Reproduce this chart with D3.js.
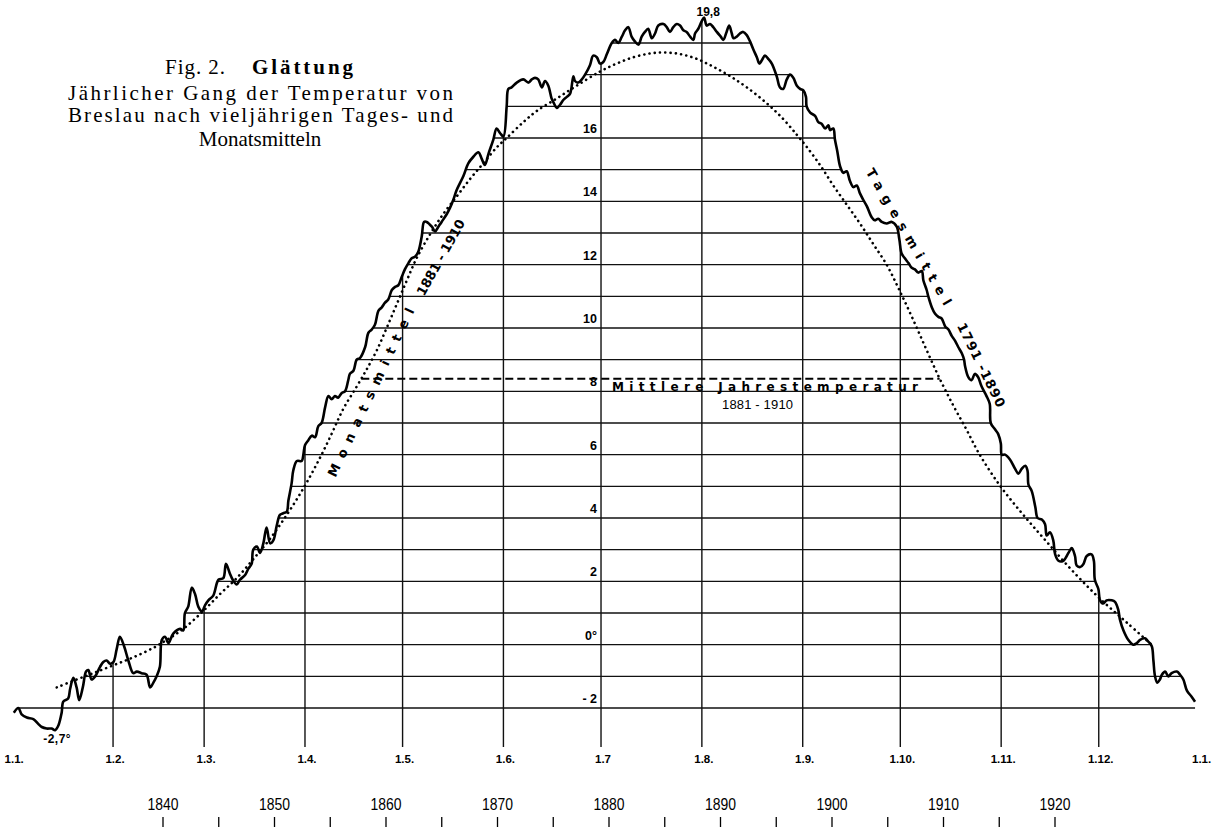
<!DOCTYPE html>
<meta charset="utf-8">
<style>
body { margin: 0; background: #fff; }
svg { display: block; background: #fff; }
.grid line { stroke: #111; stroke-width: 1.3px; }
.month line { stroke: #111; stroke-width: 1.4px; }
.daily { fill: none; stroke: #000; stroke-width: 2.6px; stroke-linejoin: round; }
.monthly { fill: none; stroke: #000; stroke-width: 2.6px; stroke-linecap: round; stroke-dasharray: 0.1 5.2; }
.mean { stroke: #000; stroke-width: 2px; stroke-dasharray: 8 4; }
.num { font-family: "Liberation Sans", Arial, sans-serif; font-weight: bold; font-size: 11.5px; fill: #000; }
.yr { font-family: "Liberation Sans", Arial, sans-serif; font-size: 16px; fill: #000; }
.yrtick line { stroke: #000; stroke-width: 1.3px; }
.lettering { font-family: "DejaVu Sans", sans-serif; font-weight: bold; font-size: 13px; fill: #000; }
.title { font-family: "Liberation Serif", "Times New Roman", serif; font-size: 21px; fill: #000; }
</style>
<body>
<svg width="1220" height="827"></svg>
<script src="https://d3js.org/d3.v7.min.js"></script>
<script>

// month boundaries (day of year) and their labels
var monthStarts = [0, 31, 59, 90, 120, 151, 181, 212, 243, 273, 304, 334, 365];
var monthLabels = ["1.1.", "1.2.", "1.3.", "1.4.", "1.5.", "1.6.", "1.7", "1.8.", "1.9.", "1.10.", "1.11.", "1.12.", "1.1."];

// temperature levels drawn as horizontal lines, and the labelled ones
var tempLevels = [-2, -1, 0, 1, 2, 3, 4, 5, 6, 7, 8, 9, 10, 11, 12, 13, 14, 15, 16, 17, 18, 19];
var tempLabels = [-2, 0, 2, 4, 6, 8, 10, 12, 14, 16];
var meanTemp = 8.4;      // Mittlere Jahrestemperatur 1881-1910
var peakTemp = 19.8;
var minTemp = -2.7;

// year scale under the chart
var yearTicks = [1840, 1845, 1850, 1855, 1860, 1865, 1870, 1875, 1880, 1885, 1890, 1895, 1900, 1905, 1910, 1915, 1920];
var yearLabels = [1840, 1850, 1860, 1870, 1880, 1890, 1900, 1910, 1920];

// Tagesmittel 1791-1890: [day of year, °C]
var dailyMean = [
  [0.5,-2.15],[1.9,-2.0],[2.9,-2.2],[4.5,-2.3],[6.5,-2.35],[8.0,-2.5],[9.1,-2.6],[10.6,-2.65],[12.1,-2.65],[13.2,-2.7],
  [14.2,-2.55],[15.2,-2.15],[15.7,-1.8],[17.2,-1.7],[17.8,-1.4],[18.8,-1.05],[19.8,-1.35],[20.6,-1.75],[21.7,-1.35],[22.7,-0.85],
  [23.4,-0.8],[24.4,-1.1],[25.5,-1.0],[27.0,-0.7],[28.0,-0.55],[29.0,-0.5],[30.1,-0.6],[31.1,-0.55],[32.1,-0.15],[33.1,0.25],
  [34.4,-0.05],[35.7,-0.5],[37.2,-0.9],[38.3,-0.85],[39.8,-0.9],[41.3,-0.95],[42.4,-1.35],[43.4,-1.2],[44.4,-1.0],[45.4,-0.7],
  [46.0,0.15],[47.0,0.25],[48.0,0.05],[49.5,0.35],[51.6,0.5],[52.6,0.45],[53.1,1.0],[54.1,1.2],[55.2,1.8],[56.2,1.6],
  [57.2,1.2],[58.3,1.05],[59.3,1.25],[60.3,1.4],[61.8,1.55],[63.4,2.05],[64.9,2.1],[65.7,2.55],[66.9,2.25],[67.8,2.05],
  [69.0,1.9],[70.0,2.05],[71.6,2.2],[72.6,2.4],[73.6,2.55],[74.1,3.0],[75.2,3.1],[76.2,2.9],[77.2,3.2],[78.2,3.7],
  [79.3,3.2],[80.3,3.3],[81.3,3.75],[82.3,4.1],[83.3,4.15],[84.4,4.2],[84.9,4.55],[85.9,5.1],[86.4,5.5],[87.5,5.8],
  [89.0,5.8],[89.5,6.0],[90.0,6.3],[91.0,6.45],[92.1,6.6],[93.1,6.55],[94.1,6.9],[95.1,7.0],[96.2,7.5],[97.2,7.85],
  [98.2,7.75],[99.2,7.85],[100.2,7.8],[101.3,7.95],[102.3,8.0],[103.3,8.35],[103.8,8.55],[104.9,8.65],[105.9,9.0],[106.9,9.05],
  [108.5,9.4],[109.5,9.85],[110.5,9.95],[111.5,10.1],[112.6,10.55],[113.6,10.65],[114.6,10.8],[115.6,10.9],[116.7,11.2],[117.7,11.3],
  [118.7,11.35],[119.7,11.6],[120.7,11.85],[121.8,12.05],[122.8,12.2],[123.8,12.25],[124.8,12.4],[125.9,12.9],[126.6,13.35],[127.4,13.35],
  [129.0,13.2],[130.0,13.05],[131.0,13.2],[132.0,13.35],[133.6,13.6],[134.6,13.8],[135.6,14.05],[136.6,14.35],[138.7,14.8],[140.2,15.2],
  [141.7,15.4],[143.3,15.55],[144.3,15.35],[145.3,15.15],[146.4,15.5],[147.9,15.95],[148.9,16.3],[150.0,16.15],[151.0,16.05],[152.0,17.0],
  [152.5,17.55],[153.5,17.6],[155.1,17.75],[157.1,17.85],[158.7,17.75],[159.7,17.85],[160.7,17.9],[161.7,17.85],[162.8,17.6],[163.8,17.8],
  [164.8,17.65],[165.8,17.25],[166.5,17.1],[167.4,16.95],[168.4,17.05],[169.4,17.2],[170.5,17.3],[171.5,17.4],[172.5,17.95],[173.0,17.8],
  [174.0,17.75],[175.1,17.85],[176.1,18.0],[177.6,18.3],[178.6,18.6],[179.7,18.55],[180.7,18.35],[181.7,18.4],[182.8,18.65],[184.3,19.0],
  [185.3,19.1],[186.3,19.0],[187.4,19.2],[188.4,19.4],[189.4,19.5],[190.4,19.2],[191.4,19.05],[192.5,18.95],[193.5,19.2],[194.5,19.35],
  [195.5,19.45],[196.6,19.15],[197.6,19.3],[198.6,19.55],[200.2,19.6],[201.2,19.5],[202.2,19.35],[203.2,19.5],[204.3,19.6],[205.3,19.55],
  [206.3,19.4],[207.3,19.35],[208.4,19.2],[209.4,19.1],[209.9,19.3],[210.9,19.45],[212.0,19.7],[212.7,19.8],[213.5,19.55],[214.5,19.6],
  [215.5,19.5],[216.6,19.35],[217.8,19.2],[218.6,19.1],[219.6,19.35],[220.4,19.55],[221.2,19.3],[221.7,19.15],[222.7,19.2],[223.7,19.3],
  [224.7,19.35],[225.8,19.25],[226.8,19.05],[227.8,18.8],[228.9,18.55],[229.7,18.35],[230.4,18.45],[231.4,18.6],[232.4,18.5],[233.5,18.35],
  [235.0,17.95],[236.0,17.6],[237.0,17.55],[238.1,17.85],[239.1,18.0],[240.1,17.9],[241.2,17.65],[242.2,17.55],[243.2,17.5],[244.0,17.3],
  [244.2,17.0],[245.3,16.8],[246.8,16.7],[247.8,16.5],[248.8,16.45],[249.9,16.3],[250.9,16.4],[251.4,16.25],[252.4,16.3],[252.9,15.95],
  [253.6,15.6],[254.5,15.1],[255.5,14.9],[256.5,14.95],[257.5,14.65],[258.6,14.45],[259.6,14.5],[260.6,14.25],[261.6,14.05],[262.7,13.85],
  [264.2,13.5],[265.2,13.4],[266.2,13.45],[267.3,13.35],[268.8,13.3],[270.4,13.35],[271.9,13.2],[272.7,12.8],[273.4,12.35],[274.4,12.2],
  [275.5,12.05],[276.5,11.9],[277.5,11.85],[278.5,11.75],[279.6,11.8],[280.1,11.5],[281.1,11.2],[281.6,11.0],[282.7,10.65],[283.7,10.45],
  [284.7,10.35],[285.7,10.3],[286.8,10.05],[287.8,9.95],[288.8,9.75],[289.8,9.6],[290.8,9.4],[291.9,9.2],[292.6,9.0],[292.9,8.8],
  [293.9,8.45],[294.9,8.35],[295.9,8.55],[296.9,8.45],[298.0,8.15],[299.5,7.85],[300.5,7.6],[300.8,7.0],[302.1,6.8],[303.1,6.65],
  [303.9,6.35],[304.2,6.0],[305.2,6.0],[306.7,5.85],[308.3,5.55],[309.3,5.4],[310.3,5.55],[311.4,5.65],[312.1,5.5],[312.4,5.05],
  [313.4,4.85],[314.5,4.35],[315.2,4.0],[316.5,3.95],[317.5,3.8],[318.0,3.45],[319.0,3.55],[320.0,3.3],[320.6,2.85],[321.6,2.65],
  [323.1,2.65],[324.7,2.9],[325.7,3.05],[326.7,2.8],[327.2,2.5],[328.3,2.45],[329.3,2.55],[330.3,2.8],[331.8,2.85],[332.5,2.65],
  [332.8,2.05],[333.9,1.75],[334.4,1.4],[335.4,1.3],[336.4,1.4],[338.0,1.4],[339.0,1.35],[340.0,1.1],[340.5,0.8],[341.6,0.45],
  [343.1,0.15],[344.6,0.0],[345.7,0.05],[346.7,0.15],[348.2,0.2],[349.2,0.1],[350.3,-0.05],[350.8,-0.5],[351.3,-1.0],[352.0,-1.2],
  [352.8,-1.1],[353.4,-0.95],[354.4,-0.85],[355.4,-1.0],[356.4,-0.9],[358.0,-0.85],[359.0,-0.95],[360.0,-1.1],[361.1,-1.45],[362.6,-1.65],
  [363.6,-1.8]
];

// Monatsmittel 1881-1910 (smoothed): [day of year, °C]
var monthlyMean = [
  [13.7,-1.35],[19.8,-1.1],[24.9,-0.9],[31.1,-0.65],[37.2,-0.4],[43.4,-0.1],[47.5,0.15],[52.6,0.5],[58.6,1.05],[63.9,1.6],
  [69.0,2.1],[74.1,2.7],[79.3,3.35],[84.4,4.1],[89.0,4.85],[93.6,5.7],[97.7,6.55],[101.8,7.45],[105.9,8.15],[109.0,8.7],
  [112.1,9.3],[115.1,10.0],[118.2,10.75],[121.3,11.5],[124.3,12.2],[128.4,12.95],[132.5,13.6],[136.6,14.15],[140.7,14.7],[144.8,15.2],
  [148.9,15.7],[152.0,16.0],[157.1,16.5],[161.2,16.85],[167.4,17.25],[173.5,17.65],[180.7,18.1],[185.8,18.35],[190.9,18.55],[196.1,18.67],
  [200.2,18.7],[205.3,18.65],[210.4,18.5],[215.5,18.25],[220.7,17.95],[225.8,17.6],[231.9,17.1],[237.0,16.6],[241.2,16.1],[244.0,15.75],
  [248.3,15.15],[252.4,14.5],[256.5,13.9],[260.6,13.3],[264.7,12.65],[268.8,12.0],[272.7,11.2],[277.0,10.25],[281.1,9.3],[285.1,8.4],
  [289.3,7.55],[293.3,6.8],[297.4,6.0],[303.8,5.0],[310.8,4.1],[318.0,3.25],[326.2,2.3],[334.4,1.45],[342.6,0.7],[350.8,-0.05]
];

var svg = d3.select("svg");

var x = d3.scaleLinear().domain([0, 365]).range([12.2, 1199.6]);
var y = d3.scaleLinear().domain([-2, 19]).range([708, 43]);
var yearX = d3.scaleLinear().domain([1840, 1920]).range([163, 1055]);
var baseY = y(-2) + 39;   // where the month lines stop at the bottom

// linear interpolation of a series at day d
function valueAt(data, d) {
  var i = d3.bisector(function(p) { return p[0]; }).left(data, d);
  if (i <= 0) return data[0][1];
  if (i >= data.length) return data[data.length - 1][1];
  var a = data[i - 1], b = data[i];
  return a[1] + (b[1] - a[1]) * (d - a[0]) / (b[0] - a[0]);
}

function dayAtLevel(a, b, level) {
  return a[0] + (b[0] - a[0]) * (level - a[1]) / (b[1] - a[1]);
}

// first rising and last falling crossing of a level
function crossings(data, level) {
  var first = -1, last = -1;
  data.forEach(function(p, i) {
    if (p[1] >= level) { if (first < 0) first = i; last = i; }
  });
  var left = first <= 0 ? data[0][0] : dayAtLevel(data[first - 1], data[first], level);
  var right = last >= data.length - 1 ? data[data.length - 1][0] : dayAtLevel(data[last], data[last + 1], level);
  return [left, right];
}

// horizontal lines, one per degree, between the two flanks of the daily curve
svg.append("g").attr("class", "grid")
  .selectAll("line")
  .data(tempLevels)
  .enter().append("line")
    .attr("x1", function(t) { return x(crossings(dailyMean, t)[0]); })
    .attr("x2", function(t) { return x(crossings(dailyMean, t)[1]); })
    .attr("y1", function(t) { return y(t); })
    .attr("y2", function(t) { return y(t); });

// month lines up to the daily curve
svg.append("g").attr("class", "month")
  .selectAll("line")
  .data(monthStarts.slice(1, 12))
  .enter().append("line")
    .attr("x1", function(d) { return x(d); })
    .attr("x2", function(d) { return x(d); })
    .attr("y1", baseY)
    .attr("y2", function(d) { return y(valueAt(dailyMean, d)); });

// mean annual temperature, dashed between the two flanks of the monthly curve
var meanSpan = crossings(monthlyMean, meanTemp);
svg.append("line")
  .attr("class", "mean")
  .attr("x1", x(meanSpan[0]))
  .attr("x2", x(meanSpan[1]))
  .attr("y1", y(meanTemp))
  .attr("y2", y(meanTemp));

var line = d3.line()
  .x(function(p) { return x(p[0]); })
  .y(function(p) { return y(p[1]); });

svg.append("path")
  .datum(monthlyMean)
  .attr("class", "monthly")
  .attr("d", line.curve(d3.curveCatmullRom.alpha(0.5)));

svg.append("path")
  .datum(dailyMean)
  .attr("class", "daily")
  .attr("d", line.curve(d3.curveCatmullRom.alpha(0.5)));

// temperature labels next to the July line
svg.append("g")
  .selectAll("text")
  .data(tempLabels)
  .enter().append("text")
    .attr("class", "num")
    .attr("text-anchor", "end")
    .attr("x", x(181) - 4)
    .attr("y", function(t) { return y(t) - 5; })
    .style("font-size", "12.5px")
    .text(function(t) { return t === 0 ? "0°" : (t < 0 ? "- " + Math.abs(t) : t); });

svg.append("text")
  .attr("class", "num")
  .attr("text-anchor", "middle")
  .attr("x", x(212.7) + 4)
  .attr("y", y(peakTemp) - 2)
  .style("font-size", "12px")
  .text(String(peakTemp).replace(".", ","));

svg.append("text")
  .attr("class", "num")
  .attr("text-anchor", "middle")
  .attr("x", x(13.2) + 2)
  .attr("y", y(minTemp) + 13)
  .style("font-size", "12px")
  .style("letter-spacing", "0.5px")
  .text("-" + String(Math.abs(minTemp)).replace(".", ",") + "°");

// month labels
svg.append("g")
  .selectAll("text")
  .data(monthStarts)
  .enter().append("text")
    .attr("class", "num")
    .attr("text-anchor", "middle")
    .attr("x", function(d) { return x(d) + 2; })
    .attr("y", baseY + 16)
    .text(function(d, i) { return monthLabels[i]; });

// year scale
svg.append("g").attr("class", "yrtick")
  .selectAll("line")
  .data(yearTicks)
  .enter().append("line")
    .attr("x1", function(v) { return yearX(v); })
    .attr("x2", function(v) { return yearX(v); })
    .attr("y1", 817)
    .attr("y2", 827);

svg.append("g")
  .selectAll("text")
  .data(yearLabels)
  .enter().append("text")
    .attr("class", "yr")
    .attr("text-anchor", "middle")
    .attr("x", function(v) { return yearX(v); })
    .attr("y", 810)
    .attr("textLength", 31)
    .attr("lengthAdjust", "spacingAndGlyphs")
    .text(function(v) { return v; });

// lettering along the curves
function slanted(text, cx, cy, angle, len) {
  svg.append("text")
    .attr("class", "lettering")
    .attr("text-anchor", "middle")
    .attr("dominant-baseline", "central")
    .attr("textLength", len)
    .attr("lengthAdjust", "spacing")
    .attr("transform", "translate(" + cx + "," + cy + ") rotate(" + angle + ")")
    .text(text);
}
slanted("Monatsmittel", 371, 392.5, -64.7, 185);
slanted("1881 - 1910", 440.8, 257.5, -60.7, 85);
slanted("Tagesmittel", 908.8, 236.8, 59.7, 156);
slanted("1791 -1890", 981.2, 365, 63.8, 92);

svg.append("text")
  .attr("class", "lettering")
  .attr("x", 612)
  .attr("y", y(meanTemp) + 12)
  .attr("textLength", 306)
  .attr("lengthAdjust", "spacing")
  .style("font-size", "12px")
  .text("Mittlere Jahrestemperatur");

svg.append("text")
  .attr("x", 722)
  .attr("y", y(meanTemp) + 30)
  .attr("textLength", 71)
  .attr("lengthAdjust", "spacing")
  .style("font-family", "Liberation Sans, Arial, sans-serif")
  .style("font-size", "13px")
  .text("1881 - 1910");

// title block
svg.append("text").attr("class", "title")
  .attr("x", 165).attr("y", 74)
  .attr("textLength", 60).attr("lengthAdjust", "spacing")
  .text("Fig. 2.");
svg.append("text").attr("class", "title")
  .attr("x", 252).attr("y", 74)
  .attr("textLength", 101).attr("lengthAdjust", "spacing")
  .style("font-weight", "bold")
  .text("Glättung");
svg.append("text").attr("class", "title")
  .attr("x", 68).attr("y", 100)
  .attr("textLength", 385).attr("lengthAdjust", "spacing")
  .text("Jährlicher Gang der Temperatur von");
svg.append("text").attr("class", "title")
  .attr("x", 68).attr("y", 122)
  .attr("textLength", 385).attr("lengthAdjust", "spacing")
  .text("Breslau nach vieljährigen Tages- und");
svg.append("text").attr("class", "title")
  .attr("x", 260).attr("y", 146)
  .attr("text-anchor", "middle")
  .text("Monatsmitteln");

</script>
</body>
